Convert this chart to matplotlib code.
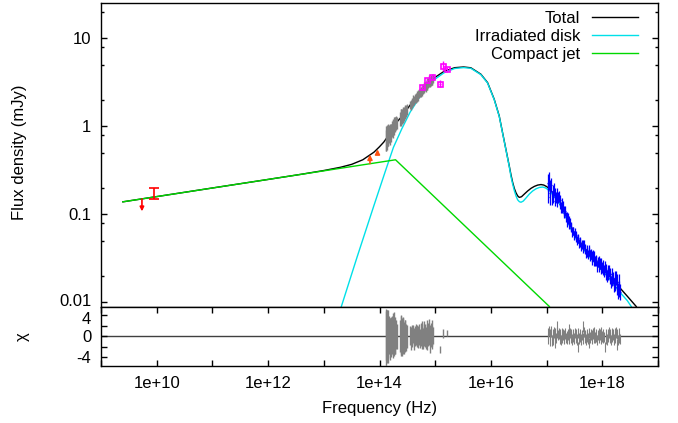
import numpy as np
import matplotlib
matplotlib.use('Agg')
import matplotlib.pyplot as plt
import matplotlib.transforms as mtransforms
from matplotlib.ticker import FixedLocator, FuncFormatter, LogLocator, NullFormatter

plt.rcParams['font.family'] = ['Liberation Sans', 'DejaVu Sans']
plt.rcParams['font.size'] = 12

# everything in log10(nu / Hz) and log10(F / mJy)

# model: total
total_lognu = [9.393, 11.0, 12.0, 12.6, 13.0, 13.3, 13.5, 13.7, 13.9, 14.0, 14.077,
               14.2, 14.288, 14.4, 14.55, 14.7, 14.85, 15.0, 15.16, 15.35, 15.51,
               15.64, 15.82, 15.94, 16.06, 16.15, 16.21, 16.27, 16.33, 16.36, 16.39,
               16.42, 16.45, 16.48, 16.51, 16.55, 16.60, 16.66, 16.72, 16.78, 16.84,
               16.90, 16.95, 17.00, 17.05, 17.10, 17.20, 17.30, 17.40, 17.50, 17.60,
               17.74, 17.92, 18.10, 18.31, 18.45, 18.61]
total_logf = [-0.858, -0.701, -0.604, -0.545, -0.503, -0.466, -0.433, -0.381, -0.295,
              -0.233, -0.18, -0.07, 0.03, 0.11, 0.24, 0.36, 0.47, 0.555, 0.623, 0.664,
              0.672, 0.663, 0.590, 0.495, 0.305, 0.115, -0.075, -0.264, -0.452, -0.55,
              -0.636, -0.705, -0.755, -0.79, -0.808, -0.80, -0.77, -0.735, -0.705,
              -0.683, -0.668, -0.662, -0.668, -0.685, -0.71, -0.75, -0.81, -0.94,
              -1.09, -1.22, -1.32, -1.43, -1.55, -1.67, -1.83, -1.93, -2.046]

# model: irradiated disk
disk_lognu = [13.315, 13.60, 13.90, 14.10, 14.25, 14.40, 14.55, 14.70, 14.85, 15.00,
              15.16, 15.35, 15.51, 15.64, 15.82, 15.94, 16.06, 16.15, 16.21, 16.27,
              16.33, 16.36, 16.39, 16.42, 16.45, 16.48, 16.51, 16.54, 16.58, 16.63,
              16.69, 16.75, 16.81, 16.87, 16.93, 16.98, 17.05, 17.10, 17.20, 17.30,
              17.40, 17.50, 17.60, 17.74, 17.92, 18.10, 18.31, 18.45, 18.52]
disk_logf = [-2.046, -1.48, -0.90, -0.52, -0.24, -0.03, 0.16, 0.31, 0.44, 0.535,
             0.607, 0.655, 0.665, 0.657, 0.585, 0.49, 0.30, 0.11, -0.08, -0.27,
             -0.46, -0.57, -0.655, -0.73, -0.79, -0.835, -0.856, -0.863, -0.85,
             -0.815, -0.77, -0.735, -0.71, -0.695, -0.69, -0.70, -0.73, -0.77, -0.84,
             -0.965, -1.115, -1.245, -1.345, -1.46, -1.585, -1.71, -1.88, -1.98, -2.046]

# model: compact jet (broken power law)
jet_lognu = [9.393, 14.288, 17.05]
jet_logf = [-0.858, -0.381, -2.046]

# radio: an upper limit and a detection
radio_ul_lognu = [9.735]
radio_ul_logf = [-0.826]
radio_ul_len = [0.14]
radio_lognu = [9.95]
radio_logf = [-0.76]
radio_err = [0.064]

# mid-IR lower limits (arrow base, arrow tip)
mir_lognu = [13.829, 13.964]
mir_base = [-0.423, -0.305]
mir_tip = [-0.322, -0.262]

# optical / NIR spectra
opt_lognu = [14.108, 14.118, 14.128, 14.138, 14.148, 14.158, 14.170, 14.180, 14.190, 14.200, 14.210,
             14.230, 14.240, 14.250, 14.262, 14.274, 14.286, 14.298, 14.310,
             14.365, 14.378, 14.390, 14.402, 14.414, 14.426, 14.438, 14.450, 14.462, 14.474, 14.486,
             14.545, 14.560, 14.575, 14.590, 14.605, 14.620, 14.635, 14.650, 14.665, 14.680,
             14.695, 14.710, 14.725, 14.740, 14.755, 14.770, 14.785, 14.800, 14.815, 14.830,
             14.845, 14.860, 14.875, 14.890, 14.905, 14.920, 14.935, 14.950, 14.965]
opt_logf = [-0.16, -0.14, -0.12, -0.13, -0.12, -0.10, -0.09, -0.10, -0.07, -0.08, -0.05,
            -0.03, -0.03, -0.01, 0.00, 0.02, 0.02, 0.04, 0.04,
            0.08, 0.10, 0.10, 0.11, 0.13, 0.13, 0.14, 0.16, 0.16, 0.17, 0.19,
            0.24, 0.24, 0.26, 0.27, 0.29, 0.29, 0.31, 0.32, 0.33, 0.35,
            0.35, 0.37, 0.38, 0.39, 0.40, 0.42, 0.42, 0.44, 0.45, 0.45,
            0.48, 0.47, 0.49, 0.51, 0.50, 0.52, 0.53, 0.52, 0.54]
opt_err = [0.12, 0.14, 0.12, 0.14, 0.11, 0.12, 0.10, 0.11, 0.10, 0.10, 0.08,
           0.09, 0.10, 0.09, 0.10, 0.09, 0.08, 0.08, 0.07,
           0.08, 0.09, 0.10, 0.09, 0.08, 0.09, 0.08, 0.07, 0.08, 0.07, 0.06,
           0.05, 0.06, 0.05, 0.05, 0.06, 0.05, 0.05, 0.06, 0.05, 0.05,
           0.06, 0.05, 0.05, 0.06, 0.06, 0.05, 0.06, 0.06, 0.05, 0.06,
           0.07, 0.06, 0.06, 0.07, 0.06, 0.06, 0.06, 0.05, 0.05]
opt_res = [0.3, -0.4, 0.6, 0.0, -0.8, 0.4, 0.2, -0.5, 0.1, -0.2, 0.3,
           0.2, 0.5, -0.3, 0.4, 0.1, -0.2, 0.3, 0.0,
           0.0, 0.3, 0.2, -0.2, 0.4, 0.0, -0.3, 0.2, 0.1, -0.2, 0.0,
           0.2, -0.4, 0.3, -0.1, 0.5, -0.6, 0.1, 0.4, -0.3, 0.2,
           -0.2, 0.4, -0.5, 0.3, 0.0, 0.6, -0.4, 0.5, 0.2, -0.3,
           0.7, -0.2, 0.4, 0.8, -0.5, 0.3, 0.6, -0.2, 0.1]
opt_res_err = [4.8, 5.2, 4.4, 5.0, 4.2, 4.6, 3.6, 4.0, 3.4, 3.8, 3.0,
               3.6, 4.0, 3.8, 4.2, 3.5, 3.2, 2.8, 2.4,
               3.0, 3.6, 3.9, 3.6, 3.2, 3.4, 3.0, 2.8, 3.0, 2.6, 2.2,
               1.8, 2.2, 1.9, 2.0, 1.7, 2.1, 1.9, 2.0, 1.8, 1.9,
               2.1, 2.0, 1.8, 2.2, 2.4, 2.3, 2.0, 2.4, 2.2, 2.1,
               2.4, 2.5, 2.2, 2.4, 2.6, 2.3, 2.4, 2.2, 1.6]

# optical / UV photometry
phot_lognu = [14.768, 14.859, 14.950, 15.086, 15.148, 15.207]
phot_logf = [0.447, 0.519, 0.556, 0.481, 0.681, 0.644]
phot_err = [0.02, 0.02, 0.02, 0.04, 0.06, 0.03]
phot_res = [0.8, 0.6, 0.4, -2.5, 0.5, 0.6]
phot_res_err = [1.0, 1.0, 1.0, 0.6, 0.8, 0.6]

# X-ray spectrum
xr_lognu = [17.020, 17.0325, 17.045, 17.0575, 17.070, 17.0825, 17.095, 17.1075, 17.120, 17.1325,
            17.145, 17.1575, 17.170, 17.1825, 17.195, 17.2075, 17.220, 17.2325, 17.245, 17.2575,
            17.270, 17.2825, 17.295, 17.3075, 17.320, 17.3325, 17.345, 17.3575, 17.370, 17.3825,
            17.395, 17.4075, 17.420, 17.4325, 17.445, 17.4575, 17.470, 17.4825, 17.495, 17.5075,
            17.520, 17.5325, 17.545, 17.5575, 17.570, 17.5825, 17.595, 17.6075, 17.620, 17.6325,
            17.645, 17.6575, 17.670, 17.6825, 17.695, 17.7075, 17.720, 17.7325, 17.745, 17.7575,
            17.770, 17.7825, 17.795, 17.8075, 17.820, 17.8325, 17.845, 17.8575, 17.870, 17.8825,
            17.895, 17.9075, 17.920, 17.9325, 17.945, 17.9575, 17.970, 17.9825, 17.995, 18.0075,
            18.020, 18.0325, 18.045, 18.0575, 18.070, 18.0825, 18.095, 18.1075, 18.120, 18.1325,
            18.145, 18.1575, 18.170, 18.1825, 18.195, 18.2075, 18.220, 18.2325, 18.245, 18.2575,
            18.270, 18.2825, 18.295, 18.3075, 18.320]
xr_logf = [-0.64, -0.76, -0.62, -0.80, -0.70, -0.67, -0.81, -0.74, -0.80, -0.72,
           -0.85, -0.76, -0.81, -0.76, -0.86, -0.81, -0.80, -0.88, -0.84, -0.92,
           -0.87, -0.93, -0.91, -0.98, -0.96, -0.96, -1.03, -1.03, -1.08, -1.05,
           -1.07, -1.12, -1.09, -1.15, -1.14, -1.21, -1.19, -1.19, -1.24, -1.21,
           -1.26, -1.24, -1.30, -1.28, -1.27, -1.33, -1.32, -1.31, -1.37, -1.34,
           -1.34, -1.39, -1.34, -1.40, -1.39, -1.44, -1.40, -1.43, -1.46, -1.42,
           -1.41, -1.47, -1.45, -1.51, -1.48, -1.47, -1.53, -1.48, -1.53, -1.53,
           -1.52, -1.59, -1.54, -1.53, -1.59, -1.56, -1.62, -1.56, -1.60, -1.63,
           -1.59, -1.64, -1.60, -1.68, -1.63, -1.70, -1.64, -1.68, -1.64, -1.72,
           -1.68, -1.77, -1.68, -1.74, -1.72, -1.80, -1.72, -1.79, -1.72, -1.83,
           -1.77, -1.87, -1.77, -1.85, -1.88]
xr_err = [0.10, 0.11, 0.10, 0.09, 0.09, 0.08, 0.08, 0.07, 0.07, 0.07,
          0.06, 0.06, 0.06, 0.06, 0.06, 0.06, 0.06, 0.06, 0.06, 0.06,
          0.06, 0.06, 0.06, 0.06, 0.06, 0.06, 0.06, 0.06, 0.06, 0.06,
          0.05, 0.05, 0.05, 0.05, 0.05, 0.05, 0.05, 0.05, 0.05, 0.05,
          0.05, 0.05, 0.05, 0.05, 0.05, 0.05, 0.05, 0.05, 0.05, 0.05,
          0.05, 0.05, 0.05, 0.05, 0.05, 0.05, 0.05, 0.05, 0.05, 0.05,
          0.06, 0.06, 0.06, 0.06, 0.06, 0.06, 0.06, 0.06, 0.06, 0.06,
          0.06, 0.06, 0.06, 0.06, 0.06, 0.06, 0.06, 0.06, 0.06, 0.06,
          0.07, 0.07, 0.07, 0.07, 0.07, 0.07, 0.07, 0.07, 0.07, 0.07,
          0.07, 0.07, 0.07, 0.07, 0.07, 0.08, 0.08, 0.08, 0.08, 0.08,
          0.09, 0.09, 0.09, 0.09, 0.09]
xr_res = [0.6, -0.5, 1.0, -0.9, 0.3, 0.9, -0.8, 0.3, -0.6, 0.7,
          -1.2, 0.5, -0.3, 0.7, 1.9, 0.2, 0.5, -0.5, 0.3, -0.7,
          0.5, -0.2, 0.3, -0.5, 0.2, 0.5, -0.3, 0.0, -0.5, 0.3,
          1.4, -0.4, 0.6, -0.2, 0.4, -0.6, 0.0, 0.4, -0.4, 0.6,
          -0.2, 0.4, -0.6, -2.0, 0.6, -0.4, 0.0, 0.4, -0.6, 0.2,
          1.9, -0.4, 0.8, -0.2, 0.2, -0.6, 0.4, 0.0, -0.4, 0.6,
          -1.3, -0.2, 0.3, -0.5, 0.2, 0.5, -0.3, 0.7, -0.2, 0.0,
          0.3, -0.7, 0.2, 0.5, -0.3, 0.3, -0.5, 0.7, 0.0, -0.3,
          0.4, -0.1, -2.0, -0.4, 0.3, -0.6, 0.4, 0.0, 0.7, -0.3,
          0.4, -0.7, 0.6, -0.1, 0.3, -0.6, 0.5, -0.2, 0.7, -1.6,
          0.4, -0.7, 0.6, -0.2, -0.5]


def lin(v):
    return 10.0 ** np.asarray(v, dtype=float)


def log_err(logf, err):
    logf = np.asarray(logf)
    err = np.asarray(err)
    f = 10.0 ** logf
    return [f - 10.0 ** (logf - err), 10.0 ** (logf + err) - f]


W, H = 678, 423
fig = plt.figure(figsize=(W / 100, H / 100), dpi=100)
left, right = 101, 658
ax1 = fig.add_axes([left / W, 1 - 306.5 / H, (right - left) / W, 303.5 / H])
ax2 = fig.add_axes([left / W, 1 - 366 / H, (right - left) / W, 59.5 / H], sharex=ax1)

black, cyan, green = 'black', '#00e0e8', '#00d800'
grey, blue, magenta = '#808080', '#0000ff', '#ff00ff'

# models
ax1.plot(lin(total_lognu), lin(total_logf), color=black, lw=1.0, label='Total', zorder=2)
ax1.plot(lin(disk_lognu), lin(disk_logf), color=cyan, lw=1.0, label='Irradiated disk', zorder=2.5)
ax1.plot(lin(jet_lognu), lin(jet_logf), color=green, lw=1.0, label='Compact jet', zorder=3)

# data
ax1.errorbar(lin(opt_lognu), lin(opt_logf), yerr=log_err(opt_logf, opt_err),
             fmt='none', ecolor=grey, elinewidth=1.0, zorder=4)
ax1.errorbar(lin(xr_lognu), lin(xr_logf), yerr=log_err(xr_logf, xr_err),
             xerr=log_err(xr_lognu, [0.007] * len(xr_lognu)),
             fmt='none', ecolor=blue, elinewidth=0.9, zorder=4)
ax1.errorbar(lin(phot_lognu), lin(phot_logf), yerr=log_err(phot_logf, phot_err),
             xerr=log_err(phot_lognu, [0.012] * len(phot_lognu)),
             fmt='s', ms=3.6, mfc='none', mec=magenta, mew=1.2, ecolor=magenta,
             elinewidth=1.0, zorder=5)
ax1.errorbar(lin(radio_lognu), lin(radio_logf), yerr=log_err(radio_logf, radio_err),
             fmt='none', ecolor='red', elinewidth=1.2, capsize=3.5, capthick=1.2, zorder=5)
for nu, f, d in zip(radio_ul_lognu, radio_ul_logf, radio_ul_len):
    ax1.annotate('', xy=(10 ** nu, 10 ** (f - d)), xytext=(10 ** nu, 10 ** f),
                 arrowprops=dict(arrowstyle='-|>', color='red', lw=1.2,
                                 mutation_scale=6, shrinkA=0, shrinkB=0), zorder=5)
for nu, b, t in zip(mir_lognu, mir_base, mir_tip):
    ax1.annotate('', xy=(10 ** nu, 10 ** t), xytext=(10 ** nu, 10 ** b),
                 arrowprops=dict(arrowstyle='-|>', color='#ff5010', lw=1.2,
                                 mutation_scale=7, shrinkA=0, shrinkB=0), zorder=5)

ax1.set_xscale('log')
ax1.set_yscale('log')
ax1.set_xlim(1e9, 1e19)
ax1.set_ylim(0.009, 25)
ax1.yaxis.set_major_locator(FixedLocator([0.01, 0.1, 1, 10]))
ax1.yaxis.set_major_formatter(FuncFormatter(lambda v, p: '%g' % v))
ax1.yaxis.set_minor_locator(LogLocator(base=10, subs=(2, 5, 8)))
ax1.yaxis.set_minor_formatter(NullFormatter())
ax1.tick_params(axis='y', which='both', direction='in', left=True, right=True, width=1)
ax1.tick_params(axis='y', which='major', length=4.5, pad=7)
ax1.tick_params(axis='y', which='minor', length=2.3)
ax1.tick_params(axis='x', which='both', bottom=False, top=False, labelbottom=False)

ax1.legend(loc='upper right', bbox_to_anchor=(0.976, 0.995), frameon=False,
           markerfirst=False, handlelength=2.75, handletextpad=0.7,
           labelspacing=0.17, borderaxespad=0.0, fontsize=12)

# residuals
ax2.axhline(0, color='#404040', lw=1.0, zorder=1)
ax2.errorbar(lin(opt_lognu), opt_res, yerr=opt_res_err, fmt='none',
             ecolor=grey, elinewidth=1.0, zorder=3)
ax2.errorbar(lin(phot_lognu), phot_res, yerr=phot_res_err, fmt='none',
             ecolor=grey, elinewidth=1.0, zorder=3)
ax2.errorbar(lin(xr_lognu), xr_res, yerr=[1.0] * len(xr_res), fmt='none',
             ecolor=grey, elinewidth=0.8, zorder=3)
ax2.set_ylim(-5.65, 5.65)
ax2.yaxis.set_major_locator(FixedLocator([-4, -2, 0, 2, 4]))
ax2.yaxis.set_major_formatter(FuncFormatter(lambda v, p: '%d' % v if v in (-4, 0, 4) else ''))
ax2.xaxis.set_major_locator(FixedLocator(10.0 ** np.arange(9, 20)))
ax2.xaxis.set_major_formatter(FuncFormatter(
    lambda v, p: '1e+%d' % round(np.log10(v)) if round(np.log10(v)) % 2 == 0 else ''))
ax2.xaxis.set_minor_locator(FixedLocator([]))
ax2.tick_params(axis='both', which='major', direction='in', length=4.5, width=1,
                left=True, right=True, top=True, bottom=True, labelbottom=True)
ax2.tick_params(axis='x', pad=7)
ax2.tick_params(axis='y', pad=7)
ax2.set_xlim(1e9, 1e19)

for ax in (ax1, ax2):
    for s in ax.spines.values():
        s.set_linewidth(1.0)

# "0.01" and "4" sit very close together, nudge them apart a little
up = mtransforms.ScaledTranslation(0, 2.5 / 100, fig.dpi_scale_trans)
down = mtransforms.ScaledTranslation(0, -2.5 / 100, fig.dpi_scale_trans)
ax1.yaxis.get_major_ticks()[0].label1.set_transform(
    ax1.yaxis.get_major_ticks()[0].label1.get_transform() + up)
ax2.yaxis.get_major_ticks()[4].label1.set_transform(
    ax2.yaxis.get_major_ticks()[4].label1.get_transform() + down)

fig.text(20 / W, 1 - 152 / H, 'Flux density (mJy)', rotation=90, ha='center', va='center')
fig.text(22 / W, 1 - 337 / H, 'χ', rotation=90, ha='center', va='center')
fig.text((left + right) / 2 / W, 1 - 408 / H, 'Frequency (Hz)', ha='center', va='center')

fig.savefig('out.png', dpi=100)
